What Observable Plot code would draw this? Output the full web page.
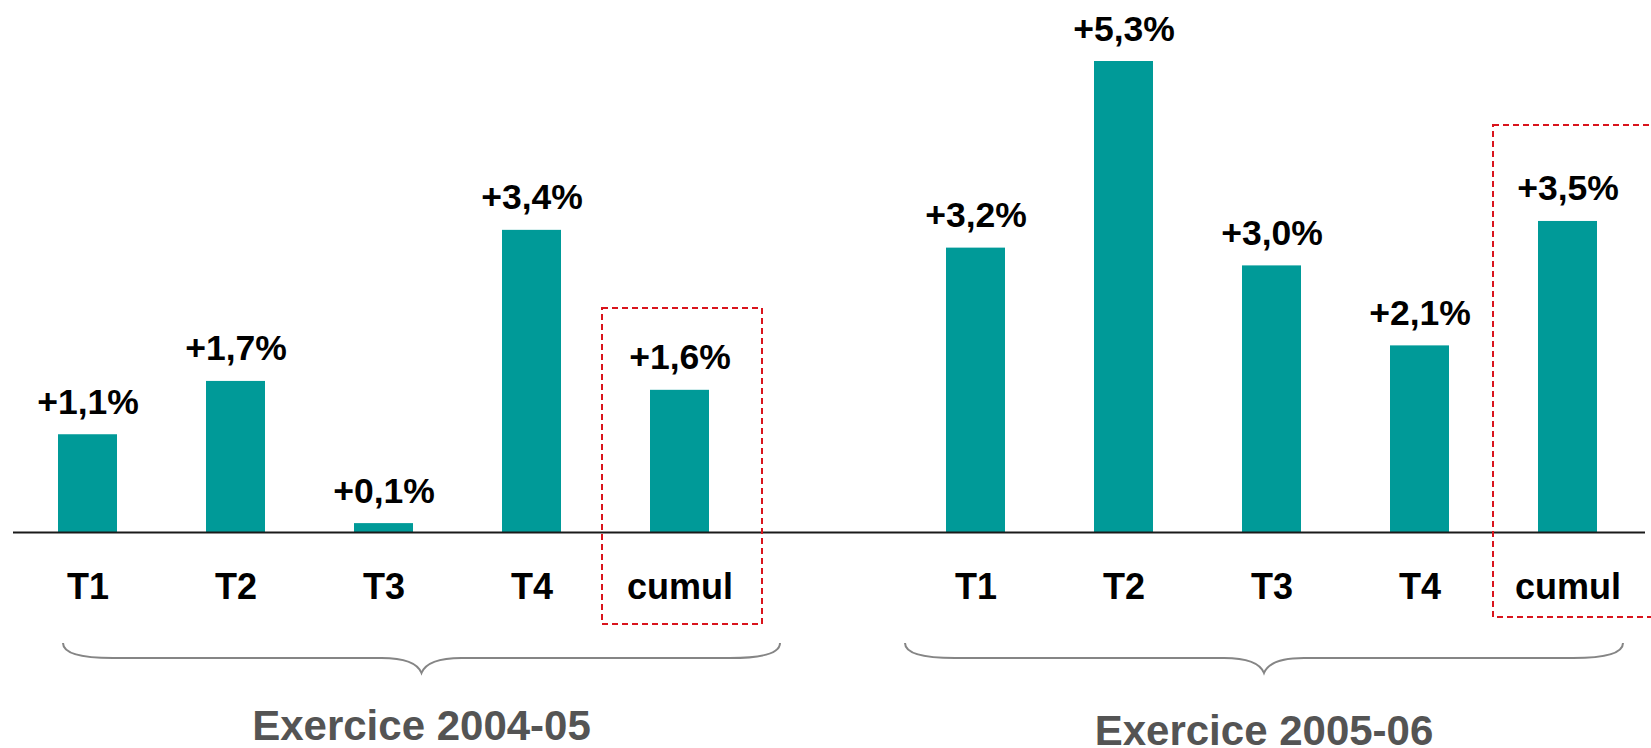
<!DOCTYPE html>
<html>
<head>
<meta charset="utf-8">
<script src="https://cdn.jsdelivr.net/npm/d3@7"></script>
<script src="https://cdn.jsdelivr.net/npm/@observablehq/plot@0.6"></script>
<style>
  html, body { margin: 0; padding: 0; background: #fff; }
  svg { display: block; }
</style>
</head>
<body>
<div id="chart"></div>
<script>
// Quarterly growth, by fiscal year (in %)
const periods = ["T1", "T2", "T3", "T4", "cumul"];
const exercices = ["Exercice 2004-05", "Exercice 2005-06"];
const growth0405 = [1.1, 1.7, 0.1, 3.4, 1.6];
const growth0506 = [3.2, 5.3, 3.0, 2.1, 3.5];

const series = [growth0405, growth0506];
const rows = exercices.flatMap((ex, g) =>
  periods.map((p, i) => ({key: `${g}-${p}`, group: g, period: p, value: series[g][i]}))
);
// one empty slot separates the two fiscal years
const domain = [...periods.map(p => `0-${p}`), "gap", ...periods.map(p => `1-${p}`)];

const fmt = v => "+" + v.toFixed(1).replace(".", ",") + "%";
const FONT = "'Liberation Sans', Arial, Helvetica, sans-serif";

// Dashed frames around the cumulative bars, curly braces and year titles
function annotations(index, scales) {
  const x = scales.x, y = scales.y;
  const step = x("0-T2") - x("0-T1");
  const bw = x.bandwidth ? x.bandwidth() : step * 0.4;
  const y0 = y(0);
  const g = d3.create("svg:g");

  const frames = [
    {key: "0-cumul", left: -48, right: 53, top: -224, bottom: 92},
    {key: "1-cumul", left: -45, right: 120, top: -407, bottom: 85}
  ];
  for (const f of frames) {
    const x0 = x(f.key) + f.left;
    const x1 = x(f.key) + bw + f.right;
    g.append("rect")
      .attr("x", x0).attr("y", y0 + f.top)
      .attr("width", x1 - x0).attr("height", f.bottom - f.top)
      .attr("fill", "none")
      .attr("stroke", "#d9141c")
      .attr("stroke-width", 2)
      .attr("stroke-dasharray", "6,4");
  }

  const braces = [
    {from: "0-T1", l: 5, to: "0-cumul", r: 71, title: exercices[0], base: 208},
    {from: "1-T1", l: -41, to: "1-cumul", r: 26, title: exercices[1], base: 213}
  ];
  const t = y0 + 111, m = y0 + 126, k = y0 + 141;
  for (const b of braces) {
    const a = x(b.from) + b.l;
    const e = x(b.to) + bw + b.r;
    const c = (a + e) / 2;
    const d = `M${a},${t} Q${a},${m} ${a + 50},${m} L${c - 40},${m} Q${c - 6},${m} ${c},${k}`
            + ` Q${c + 6},${m} ${c + 40},${m} L${e - 50},${m} Q${e},${m} ${e},${t}`;
    g.append("path")
      .attr("d", d)
      .attr("fill", "none")
      .attr("stroke", "#858585")
      .attr("stroke-width", 2);
    g.append("text")
      .attr("x", c).attr("y", y0 + b.base)
      .attr("text-anchor", "middle")
      .attr("font-family", FONT)
      .attr("font-size", 42)
      .attr("font-weight", "bold")
      .attr("fill", "#545454")
      .text(b.title);
  }
  return g.node();
}

const chart = Plot.plot({
  width: 1651,
  height: 748,
  marginTop: 0,
  marginBottom: 0,
  marginLeft: 13,
  marginRight: 6,
  style: {fontFamily: FONT, background: "#fff"},
  x: {type: "band", domain, range: [12.5, 1642.7], paddingInner: 0.6, paddingOuter: 0.3, align: 0.5, axis: null},
  y: {domain: [0, 5.3], range: [532, 61], axis: null},
  marks: [
    Plot.barY(rows, {x: "key", y: "value", fill: "#009a98"}),
    Plot.ruleY([0], {stroke: "#1a1a1a", strokeWidth: 2}),
    Plot.text(rows, {
      x: "key", y: "value", text: d => fmt(d.value),
      dy: -21, lineAnchor: "bottom",
      fontSize: 35.5, fontWeight: "bold", fill: "#000"
    }),
    Plot.text(rows, {
      x: "key", y: () => 0, text: "period",
      dy: 66, lineAnchor: "bottom",
      fontSize: 36, fontWeight: "bold", fill: "#000"
    }),
    annotations
  ]
});

document.getElementById("chart").appendChild(chart);
</script>
</body>
</html>
